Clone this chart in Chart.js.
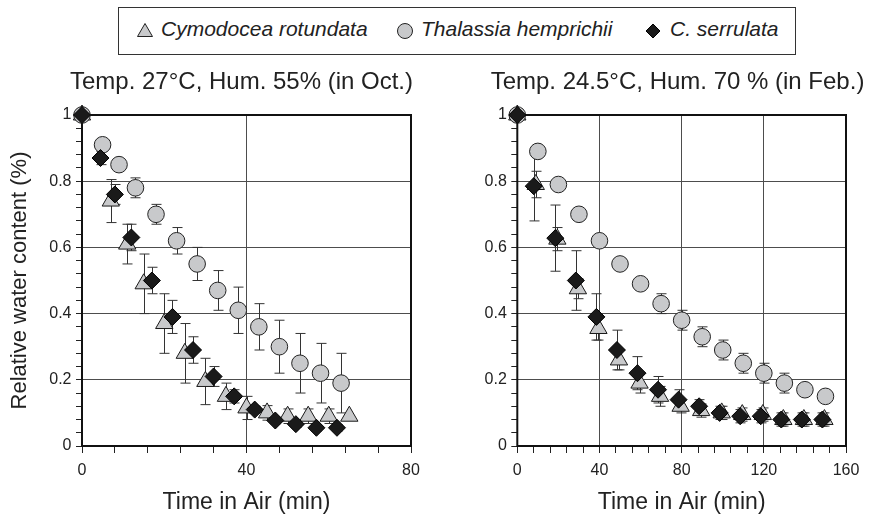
<!DOCTYPE html>
<html>
<head>
<meta charset="utf-8">
<script src="https://cdn.jsdelivr.net/npm/chart.js@4.4.1/dist/chart.umd.min.js"></script>
<style>
html,body{margin:0;padding:0;background:#fff;overflow:hidden;}
body{width:869px;height:517px;position:relative;font-family:'Liberation Sans',Arial,Helvetica,sans-serif;color:#222;}
canvas{position:absolute;}
#c-oct{left:0;top:60px;}
#c-feb{left:470px;top:60px;}
.lg-box{position:absolute;left:118px;top:7px;width:678px;height:48px;border:1.5px solid #333;box-sizing:border-box;}
.lg-mark{position:absolute;top:22px;}
.lg-txt{position:absolute;top:17px;font-style:italic;font-size:21px;line-height:24px;white-space:nowrap;}
</style>
</head>
<body>
<div class="lg-box"></div>
<svg class="lg-mark" style="left:136px" width="18" height="18"><polygon points="9,1.5 16.5,14.5 1.5,14.5" fill="#c8c9cb" stroke="#222" stroke-width="1"/></svg>
<span class="lg-txt" style="left:161px">Cymodocea rotundata</span>
<svg class="lg-mark" style="left:396px" width="18" height="18"><circle cx="9" cy="9" r="7.5" fill="#c8c9cb" stroke="#222" stroke-width="1"/></svg>
<span class="lg-txt" style="left:421px">Thalassia hemprichii</span>
<svg class="lg-mark" style="left:644px" width="18" height="18"><polygon points="9,2 16,9 9,16 2,9" fill="#1a1a1a" stroke="#000" stroke-width="1"/></svg>
<span class="lg-txt" style="left:670px">C. serrulata</span>

<canvas id="c-oct" width="483" height="457"></canvas>
<canvas id="c-feb" width="401" height="457"></canvas>

<script>
// ── tick labels ──
const yTickLabels    = ['0','0.2','0.4','0.6','0.8','1'];
const xTickLabelsOct = ['0','40','80'];
const xTickLabelsFeb = ['0','40','80','120','160'];

// ── Oct. (27°C, 55%) ──
const cymoOctX   = [0, 7, 11, 15, 20, 25, 30, 35, 40, 45, 50, 55, 60, 65];
const cymoOctY   = [1, 0.74, 0.61, 0.49, 0.37, 0.28, 0.195, 0.15, 0.115, 0.10, 0.09, 0.09, 0.09, 0.09];
const cymoOctErr = [0, 0.065, 0.06, 0.09, 0.09, 0.09, 0.07, 0.04, 0.035, 0.022, 0.022, 0.022, 0.022, 0];

const thalOctX   = [0, 5, 9, 13, 18, 23, 28, 33, 38, 43, 48, 53, 58, 63];
const thalOctY   = [1, 0.91, 0.85, 0.78, 0.70, 0.62, 0.55, 0.47, 0.41, 0.36, 0.30, 0.25, 0.22, 0.19];
const thalOctErr = [0, 0, 0, 0.03, 0.03, 0.04, 0.05, 0.06, 0.07, 0.07, 0.08, 0.09, 0.09, 0.09];

const cserOctX   = [0, 4.5, 8, 12, 17, 22, 27, 32, 37, 42, 47, 52, 57, 62];
const cserOctY   = [1, 0.87, 0.76, 0.63, 0.50, 0.39, 0.29, 0.21, 0.15, 0.11, 0.077, 0.066, 0.055, 0.055];
const cserOctErr = [0, 0.02, 0.03, 0.04, 0.04, 0.05, 0.04, 0.03, 0.02, 0.01, 0.01, 0.01, 0.01, 0.01];

// ── Feb. (24.5°C, 70%) ──
const cymoFebX   = [0, 9, 19.5, 29.5, 39.5, 49.5, 59.5, 69.5, 79.5, 89.5, 99.5, 109.5, 119.5, 129.5, 139.5, 149.5];
const cymoFebY   = [1, 0.79, 0.625, 0.475, 0.355, 0.26, 0.19, 0.15, 0.12, 0.107, 0.10, 0.095, 0.095, 0.08, 0.08, 0.08];
const cymoFebErr = [0, 0.04, 0.035, 0.03, 0.035, 0.03, 0.03, 0.03, 0.02, 0.02, 0.02, 0.02, 0.02, 0.02, 0.02, 0.02];

const thalFebX   = [0, 10, 20, 30, 40, 50, 60, 70, 80, 90, 100, 110, 120, 130, 140, 150];
const thalFebY   = [1, 0.89, 0.79, 0.70, 0.62, 0.55, 0.49, 0.43, 0.38, 0.33, 0.29, 0.25, 0.22, 0.19, 0.17, 0.15];
const thalFebErr = [0, 0, 0, 0, 0, 0, 0, 0.03, 0.03, 0.03, 0.03, 0.03, 0.03, 0.03, 0, 0];

const cserFebX   = [0, 8, 18.5, 28.5, 38.5, 48.5, 58.5, 68.5, 78.5, 88.5, 98.5, 108.5, 118.5, 128.5, 138.5, 148.5];
const cserFebY   = [1, 0.785, 0.628, 0.50, 0.39, 0.29, 0.22, 0.17, 0.14, 0.12, 0.10, 0.09, 0.09, 0.08, 0.08, 0.08];
const cserFebErr = [0, 0.105, 0.10, 0.09, 0.07, 0.06, 0.05, 0.04, 0.03, 0.02, 0.02, 0.02, 0.02, 0.02, 0.02, 0.02];

Chart.defaults.font.family = "'Liberation Sans', Arial, Helvetica, sans-serif";
Chart.defaults.color = '#222';

const isMajor = (v, step) => Math.abs(v/step - Math.round(v/step)) < 1e-6;

// error bars + plot frame, drawn under the markers
const errFrame = {
  id:'errFrame',
  beforeDatasetsDraw(chart){
    const {ctx, chartArea:a, scales:{x,y}} = chart;
    ctx.save();
    ctx.strokeStyle='#111'; ctx.lineWidth=2;
    ctx.strokeRect(a.left, a.top, a.right-a.left, a.bottom-a.top);
    ctx.strokeStyle='#333'; ctx.lineWidth=1;
    chart.data.datasets.forEach(ds=>{
      ds.data.forEach((p,j)=>{
        const e = ds.err[j]; if(!e) return;
        const px = Math.round(x.getPixelForValue(p.x))+0.5;
        const t = y.getPixelForValue(p.y+e), b = y.getPixelForValue(p.y-e);
        ctx.beginPath();
        ctx.moveTo(px,t); ctx.lineTo(px,b);
        ctx.moveTo(px-5,t); ctx.lineTo(px+5,t);
        ctx.moveTo(px-5,b); ctx.lineTo(px+5,b);
        ctx.stroke();
      });
    });
    ctx.restore();
  }
};

const pts = (xs,ys) => xs.map((x,i)=>({x, y:ys[i]}));

function series(xs, ys, err, style){
  const base = {data:pts(xs,ys), err, showLine:false, clip:false, pointBorderWidth:1};
  if(style==='tri')  return {...base, order:3, pointStyle:'triangle', pointRadius:10,
    pointBackgroundColor:'#c8c9cb', pointBorderColor:'#1a1a1a'};
  if(style==='circ') return {...base, order:2, pointStyle:'circle', pointRadius:8.3,
    pointBackgroundColor:'#c8c9cb', pointBorderColor:'#222'};
  return {...base, order:1, pointStyle:'rectRot', pointRadius:8.5,
    pointBackgroundColor:'#1a1a1a', pointBorderColor:'#000'};
}

// padL: left edge of the title box and y scale; yWidth/rWidth: space left/right of the plot
function makeChart(id, title, xMax, xLabels, datasets, padL, yWidth, rWidth, yTitle){
  return new Chart(document.getElementById(id), {
    type:'scatter',
    data:{datasets},
    plugins:[errFrame],
    options:{
      responsive:false, animation:false, events:[],
      layout:{padding:{left:padL,right:0,top:0,bottom:0}, autoPadding:false},
      plugins:{legend:{display:false}, tooltip:{enabled:false},
        title:{display:true, text:title, font:{size:24, weight:'normal'}, color:'#222',
               padding:{top:7.6,bottom:18.6}}},
      scales:{
        x:{type:'linear', min:0, max:xMax, afterFit:s=>{s.height=71;},
           ticks:{stepSize:8, autoSkip:false, maxRotation:0, padding:8, font:{size:16}, color:'#222',
                  callback:v=>isMajor(v,40)?xLabels[Math.round(v/40)]:''},
           grid:{color:c=>isMajor(c.tick.value,40)?'#4d4d4d':'rgba(0,0,0,0)', tickColor:'#222', tickLength:7, lineWidth:1},
           border:{display:false},
           title:{display:true, text:'Time in Air (min)', font:{size:23}, color:'#222', padding:{top:0,bottom:1}}},
        y:{type:'linear', min:0, max:1, afterFit:s=>{s.width=yWidth;},
           ticks:{stepSize:0.04, autoSkip:false, padding:4.5, font:{size:16}, color:'#222',
                  callback:v=>isMajor(v,0.2)?yTickLabels[Math.round(v/0.2)]:''},
           grid:{color:c=>isMajor(c.tick.value,0.2)?'#4d4d4d':'rgba(0,0,0,0)', tickColor:'#222', tickLength:6, lineWidth:1},
           border:{display:false},
           title:{display:!!yTitle, text:yTitle||'', font:{size:22}, color:'#222', padding:{top:7,bottom:0}}},
        // empty spacer on the right so the title can centre over the whole panel
        pad:{type:'linear', position:'right', min:0, max:1, afterFit:s=>{s.width=rWidth;},
           ticks:{display:false}, grid:{display:false}, border:{display:false}}
      }
    }
  });
}

makeChart('c-oct', 'Temp. 27°C, Hum. 55% (in Oct.)', 80, xTickLabelsOct, [
  series(cymoOctX, cymoOctY, cymoOctErr, 'tri'),
  series(thalOctX, thalOctY, thalOctErr, 'circ'),
  series(cserOctX, cserOctY, cserOctErr, 'dia')
], 0, 82, 72, 'Relative water content (%)');

makeChart('c-feb', 'Temp. 24.5°C, Hum. 70 % (in Feb.)', 160, xTickLabelsFeb, [
  series(cymoFebX, cymoFebY, cymoFebErr, 'tri'),
  series(thalFebX, thalFebY, thalFebErr, 'circ'),
  series(cserFebX, cserFebY, cserFebErr, 'dia')
], 14, 33.3, 25, null);
</script>
</body>
</html>
